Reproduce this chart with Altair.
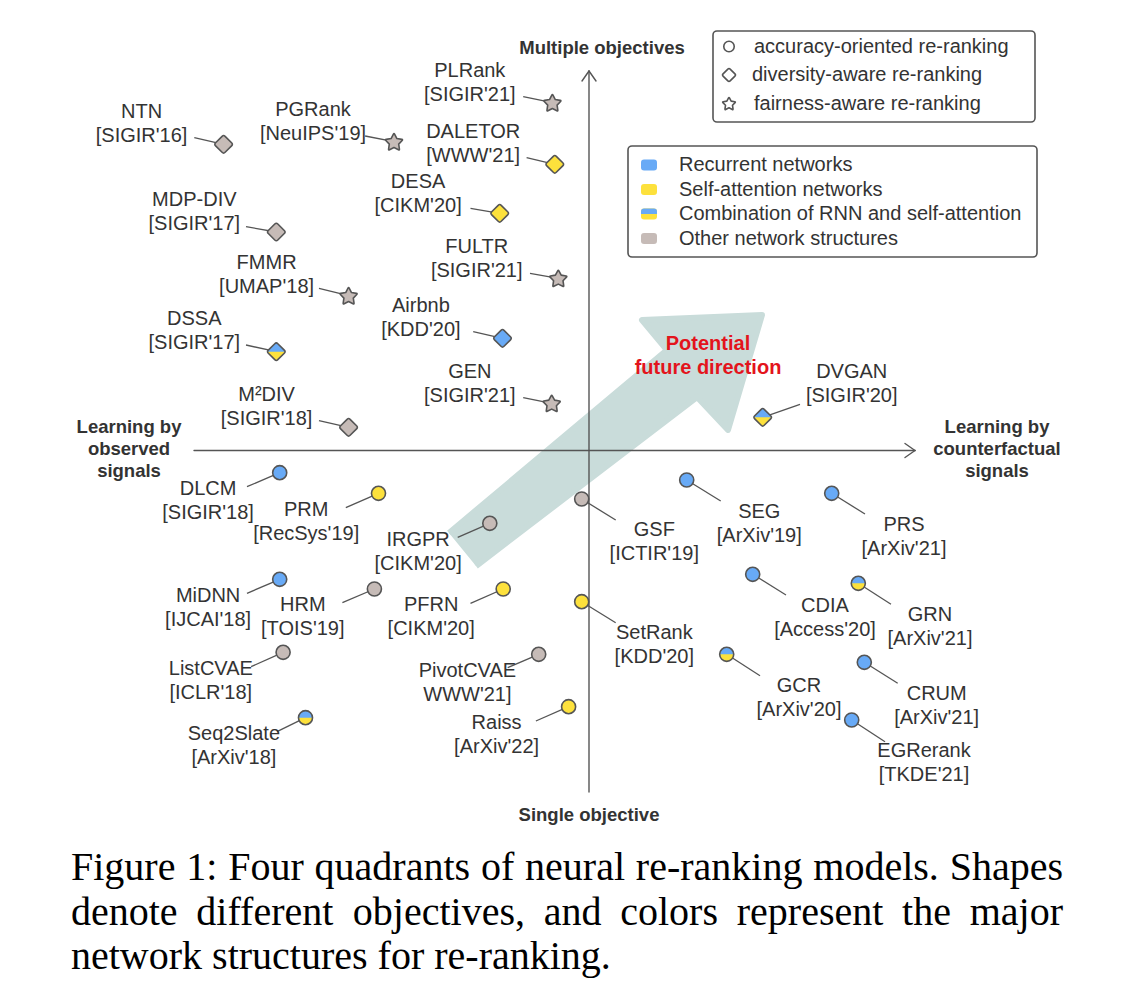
import math
import altair as alt
import pandas as pd

# ---------------- data ----------------
names = ["NTN", "PGRank", "PLRank", "DALETOR", "DESA", "MDP-DIV", "FULTR", "FMMR", "Airbnb",
         "DSSA", "GEN", "M²DIV", "DVGAN",
         "DLCM", "PRM", "IRGPR", "MiDNN", "HRM", "PFRN", "ListCVAE", "PivotCVAE", "Seq2Slate", "Raiss",
         "GSF", "SEG", "PRS", "CDIA", "GRN", "SetRank", "GCR", "CRUM", "EGRerank"]
venues = ["[SIGIR'16]", "[NeuIPS'19]", "[SIGIR'21]", "[WWW'21]", "[CIKM'20]", "[SIGIR'17]", "[SIGIR'21]",
          "[UMAP'18]", "[KDD'20]", "[SIGIR'17]", "[SIGIR'21]", "[SIGIR'18]", "[SIGIR'20]",
          "[SIGIR'18]", "[RecSys'19]", "[CIKM'20]", "[IJCAI'18]", "[TOIS'19]", "[CIKM'20]", "[ICLR'18]",
          "WWW'21]", "[ArXiv'18]", "[ArXiv'22]",
          "[ICTIR'19]", "[ArXiv'19]", "[ArXiv'21]", "[Access'20]", "[ArXiv'21]", "[KDD'20]", "[ArXiv'20]",
          "[ArXiv'21]", "[TKDE'21]"]
objectives = ["diversity", "fairness", "fairness", "diversity", "diversity", "diversity", "fairness",
              "fairness", "diversity", "diversity", "fairness", "diversity", "diversity"] + ["accuracy"] * 19
networks = ["other", "other", "other", "self", "self", "other", "other", "other", "rnn", "combo", "other",
            "other", "combo",
            "rnn", "self", "other", "rnn", "other", "self", "other", "other", "combo", "self",
            "other", "rnn", "rnn", "rnn", "combo", "self", "combo", "rnn", "rnn"]
# position of each model in the diagram
point_x = [223.6, 394.0, 552.4, 554.8, 499.7, 276.3, 558.3, 348.6, 502.5, 276.3, 551.7, 348.6, 762.7,
           279.7, 378.5, 489.8, 279.7, 374.4, 503.2, 283.1, 538.7, 305.5, 568.6,
           581.7, 686.7, 831.7, 752.7, 858.3, 581.7, 726.7, 864.3, 851.7]
point_y = [144.3, 141.7, 102.7, 164.3, 213.3, 232.0, 278.3, 295.7, 338.3, 351.7, 403.3, 427.3, 417.3,
           472.7, 493.3, 523.3, 579.3, 589.0, 589.0, 652.3, 654.3, 717.7, 706.7,
           499.0, 480.0, 493.3, 574.3, 583.3, 601.7, 654.3, 662.3, 720.0]
# label centre
label_x = [141.6, 313.0, 469.8, 473.2, 418.1, 194.3, 476.7, 266.6, 420.9, 194.3, 469.8, 266.6, 851.7,
           208.1, 306.2, 418.1, 208.1, 302.8, 431.2, 210.8, 467.4, 233.9, 496.6,
           654.3, 759.3, 904.0, 825.0, 930.0, 654.3, 799.0, 936.7, 924.0]
label_y = [124.2, 122.0, 82.8, 143.8, 193.8, 212.0, 258.7, 274.7, 318.3, 331.3, 383.7, 407.2, 383.5,
           501.3, 522.0, 551.5, 607.5, 617.2, 617.2, 681.3, 682.8, 746.2, 735.3,
           542.2, 523.5, 536.8, 617.8, 626.7, 645.0, 698.0, 705.8, 763.3]
# leader line end near the label
leader_x = [194.3, 365.1, 523.2, 526.6, 470.5, 246.0, 530.0, 319.0, 473.2, 246.0, 523.2, 319.0, 800.0,
            247.0, 345.8, 457.7, 247.0, 342.4, 470.5, 251.1, 507.7, 277.0, 535.9,
            615.7, 720.7, 865.0, 786.0, 891.0, 615.7, 760.0, 897.7, 885.0]
leader_y = [137.7, 136.0, 96.7, 157.7, 208.3, 226.7, 273.3, 288.3, 331.7, 345.0, 397.7, 420.7, 404.3,
            486.7, 507.7, 537.3, 593.3, 602.7, 603.3, 666.7, 667.7, 731.7, 721.0,
            520.0, 501.0, 514.0, 595.0, 604.3, 622.7, 675.7, 683.3, 741.7]

shape_labels = ["accuracy-oriented re-ranking", "diversity-aware re-ranking", "fairness-aware re-ranking"]
shape_keys = ["accuracy", "diversity", "fairness"]
net_labels = ["Recurrent networks", "Self-attention networks", "Combination of RNN and self-attention",
              "Other network structures"]
net_keys = ["rnn", "self", "combo", "other"]

axis_titles = ["Multiple objectives", "Single objective", "Learning by", "observed", "signals",
               "Learning by", "counterfactual", "signals"]
arrow_text = ["Potential", "future direction"]
caption_lines = ["Figure 1: Four quadrants of neural re-ranking models. Shapes",
                 "denote different objectives, and colors represent the major",
                 "network structures for re-ranking."]

# ---------------- styles ----------------
BLUE = "#68aaf6"
YELLOW = "#fde13c"
GRAY = "#c6bbb7"
EDGE = "#555555"
TXT = "#333333"
TEAL = "#c9dcda"
RED = "#e3141c"
SANS = "Liberation Sans"
SERIF = "Liberation Serif"

XS = alt.Scale(domain=[8, 1132], nice=False, zero=False)
YS = alt.Scale(domain=[8, 988], nice=False, zero=False, reverse=True)


def X(f):
    return alt.X(f, type="quantitative", scale=XS, axis=None)


def Y(f):
    return alt.Y(f, type="quantitative", scale=YS, axis=None)


def circle_path(r):
    k = 0.5523 * r
    return (f"M {r} 0 C {r} {k} {k} {r} 0 {r} C {-k} {r} {-r} {k} {-r} 0 "
            f"C {-r} {-k} {-k} {-r} 0 {-r} C {k} {-r} {r} {-k} {r} 0 Z")


def circle_top(r):
    k = 0.5523 * r
    return f"M {-r} 0 C {-r} {-k} {-k} {-r} 0 {-r} C {k} {-r} {r} {-k} {r} 0 Z"


DIAMOND = ("M -0.84 -0.16 L -0.16 -0.84 Q 0 -1 0.16 -0.84 L 0.84 -0.16 Q 1 0 0.84 0.16 "
           "L 0.16 0.84 Q 0 1 -0.16 0.84 L -0.84 0.16 Q -1 0 -0.84 -0.16 Z")
DIAMOND_TOP = "M -0.92 0 L -0.84 -0.16 L -0.16 -0.84 Q 0 -1 0.16 -0.84 L 0.84 -0.16 L 0.92 0 Z"


def star_path(R=1.0, ri=0.52, f=0.2):
    pts = []
    for i in range(10):
        a = math.radians(-90 + 36 * i)
        rad = R if i % 2 == 0 else ri
        pts.append((rad * math.cos(a), rad * math.sin(a) + 0.09))
    out = []
    for i in range(10):
        if i % 2 == 0:
            V, P, N = pts[i], pts[i - 1], pts[(i + 1) % 10]
            a = (V[0] + (P[0] - V[0]) * f, V[1] + (P[1] - V[1]) * f)
            b = (V[0] + (N[0] - V[0]) * f, V[1] + (N[1] - V[1]) * f)
            out.append(("L" if out else "M") + f" {a[0]:.3f} {a[1]:.3f} Q {V[0]:.3f} {V[1]:.3f} {b[0]:.3f} {b[1]:.3f}")
        else:
            out.append(f"L {pts[i][0]:.3f} {pts[i][1]:.3f}")
    return " ".join(out) + " Z"


STAR = star_path()
SHAPE_SCALE = alt.Scale(domain=shape_keys, range=[circle_path(0.74), DIAMOND, STAR])
HALF_SCALE = alt.Scale(domain=shape_keys, range=[circle_top(0.74), DIAMOND_TOP, STAR])
COLOR_SCALE = alt.Scale(domain=net_keys, range=[BLUE, YELLOW, YELLOW, GRAY])

ROUNDRECT = ("M -0.62 -0.7 L 0.62 -0.7 Q 1 -0.7 1 -0.32 L 1 0.32 Q 1 0.7 0.62 0.7 L -0.62 0.7 "
             "Q -1 0.7 -1 0.32 L -1 -0.32 Q -1 -0.7 -0.62 -0.7 Z")
ROUNDRECT_TOP = "M -1 0 L -1 -0.32 Q -1 -0.7 -0.62 -0.7 L 0.62 -0.7 Q 1 -0.7 1 -0.32 L 1 0 Z"

# ---------------- tables ----------------
df = pd.DataFrame(dict(name=names, venue=venues, objective=objectives, network=networks,
                       px=point_x, py=point_y, lx=label_x, ly=label_y, kx=leader_x, ky=leader_y))
df["y1"] = df["ly"] - 12
df["y2"] = df["ly"] + 12

# big arrow outline (layout)
arrow = pd.DataFrame(dict(
    x=[449, 667, 642, 762, 728, 697, 476],
    y=[533, 350, 320, 315, 430, 397, 566],
    o=list(range(7))))

# axes segments
axes = pd.DataFrame(dict(
    x=[194, 589, 905, 905, 582, 596],
    y=[450.5, 71, 443.5, 457.5, 81, 81],
    x2=[915, 589, 915, 915, 589, 589],
    y2=[450.5, 792, 450.5, 450.5, 71, 71]))

titles = pd.DataFrame(dict(text=axis_titles,
                           x=[602, 589, 129, 129, 129, 997, 997, 997],
                           y=[48, 815, 427, 449, 471, 427, 449, 471]))
future = pd.DataFrame(dict(text=arrow_text, x=[708, 708], y=[343.5, 367.5]))

leg_boxes = pd.DataFrame(dict(x=[713, 628], x2=[1035, 1037], y=[31, 146], y2=[122, 257]))
leg1 = pd.DataFrame(dict(key=shape_keys, text=shape_labels, x=[729] * 3, tx=[754, 752, 754],
                         y=[46.5, 75, 103.5]))
leg2 = pd.DataFrame(dict(key=net_keys, text=net_labels, x=[649] * 4, tx=[679] * 4,
                         y=[165, 189.5, 214, 238.5]))

# caption, justified like the paper
TW = {' ': .25, 'a': .444, 'b': .5, 'c': .444, 'd': .5, 'e': .444, 'f': .333, 'g': .5, 'h': .5, 'i': .278,
      'j': .278, 'k': .5, 'l': .278, 'm': .778, 'n': .5, 'o': .5, 'p': .5, 'q': .5, 'r': .333, 's': .389,
      't': .278, 'u': .5, 'v': .5, 'w': .722, 'x': .5, 'y': .5, 'z': .444, 'F': .556, 'S': .556, '1': .5,
      ':': .278, '.': .25, ',': .25, '-': .333}
CAP_FS = 40
CAP_L, CAP_R = 71, 1063
cap_rows = []
for li, line in enumerate(caption_lines):
    words = line.split(" ")
    widths = [sum(TW.get(c, .5) for c in w) * CAP_FS for w in words]
    if li < len(caption_lines) - 1:
        gap = (CAP_R - CAP_L - sum(widths)) / (len(words) - 1)
    else:
        gap = .25 * CAP_FS
    cx = CAP_L
    for w, wd in zip(words, widths):
        cap_rows.append(dict(text=w, x=cx, y=880 + 44.5 * li))
        cx += wd + gap
caption = pd.DataFrame(cap_rows)

# ---------------- layers ----------------
arrow_l = alt.Chart(arrow).mark_line(fill=TEAL, stroke=TEAL, strokeWidth=6, strokeJoin="round").encode(
    x=X("x"), y=Y("y"), order="o:Q")

axes_l = alt.Chart(axes).mark_rule(color=EDGE, strokeWidth=1.4, strokeCap="round").encode(
    x=X("x"), y=Y("y"), x2="x2", y2="y2")

leaders = alt.Chart(df).mark_rule(color=EDGE, strokeWidth=1.3).encode(
    x=X("kx"), y=Y("ky"), x2="px", y2="py")

fill_l = alt.Chart(df).mark_point(filled=True, size=361, opacity=1, strokeOpacity=0).encode(
    x=X("px"), y=Y("py"),
    shape=alt.Shape("objective:N", scale=SHAPE_SCALE, legend=None),
    color=alt.Color("network:N", scale=COLOR_SCALE, legend=None))

half_l = alt.Chart(df).transform_filter("datum.network == 'combo'").mark_point(
    filled=True, size=361, opacity=1, color=BLUE, strokeOpacity=0).encode(
    x=X("px"), y=Y("py"),
    shape=alt.Shape("objective:N", scale=HALF_SCALE, legend=None))

outline_l = alt.Chart(df).mark_point(filled=False, size=361, opacity=1, stroke=EDGE, strokeWidth=1.6,
                                     strokeJoin="round").encode(
    x=X("px"), y=Y("py"),
    shape=alt.Shape("objective:N", scale=SHAPE_SCALE, legend=None))

name_l = alt.Chart(df).mark_text(font=SANS, fontSize=20, color=TXT, align="center", baseline="middle").encode(
    x=X("lx"), y=Y("y1"), text="name:N")
venue_l = alt.Chart(df).mark_text(font=SANS, fontSize=20, color=TXT, align="center", baseline="middle").encode(
    x=X("lx"), y=Y("y2"), text="venue:N")

titles_l = alt.Chart(titles).mark_text(font=SANS, fontSize=18.5, fontWeight="bold", color=TXT,
                                       align="center", baseline="middle").encode(
    x=X("x"), y=Y("y"), text="text:N")
future_l = alt.Chart(future).mark_text(font=SANS, fontSize=20, fontWeight="bold", color=RED,
                                       align="center", baseline="middle").encode(
    x=X("x"), y=Y("y"), text="text:N")

boxes_l = alt.Chart(leg_boxes).mark_rect(fill="white", stroke=EDGE, strokeWidth=1.6, cornerRadius=4).encode(
    x=X("x"), x2="x2", y=Y("y"), y2="y2")

leg1_sym = alt.Chart(leg1).mark_point(filled=True, size=200, opacity=1, fill="white", stroke=EDGE,
                                      strokeWidth=1.6, strokeJoin="round").encode(
    x=X("x"), y=Y("y"), shape=alt.Shape("key:N", scale=SHAPE_SCALE, legend=None))
leg1_txt = alt.Chart(leg1).mark_text(font=SANS, fontSize=20, color=TXT, align="left", baseline="middle").encode(
    x=X("tx"), y=Y("y"), text="text:N")

leg2_sw = alt.Chart(leg2).mark_point(filled=True, size=256, opacity=1, strokeOpacity=0,
                                     shape=ROUNDRECT).encode(
    x=X("x"), y=Y("y"), color=alt.Color("key:N", scale=COLOR_SCALE, legend=None))
leg2_half = alt.Chart(leg2).transform_filter("datum.key == 'combo'").mark_point(
    filled=True, size=256, opacity=1, strokeOpacity=0, color=BLUE, shape=ROUNDRECT_TOP).encode(
    x=X("x"), y=Y("y"))
leg2_txt = alt.Chart(leg2).mark_text(font=SANS, fontSize=20, color=TXT, align="left", baseline="middle").encode(
    x=X("tx"), y=Y("y"), text="text:N")

cap_l = alt.Chart(caption).mark_text(font=SERIF, fontSize=CAP_FS, color="black", align="left",
                                     baseline="alphabetic").encode(
    x=X("x"), y=Y("y"), text="text:N")

chart = alt.layer(
    arrow_l, axes_l, leaders, fill_l, half_l, outline_l, name_l, venue_l, titles_l, future_l,
    boxes_l, leg1_sym, leg1_txt, leg2_sw, leg2_half, leg2_txt, cap_l
).resolve_scale(shape="independent", color="independent").properties(
    width=1124, height=980, padding=0, autosize=alt.AutoSizeParams(type="none"), background="white"
).configure_view(stroke=None)

chart.save("out.html", embed_options={"renderer": "svg", "actions": False})
